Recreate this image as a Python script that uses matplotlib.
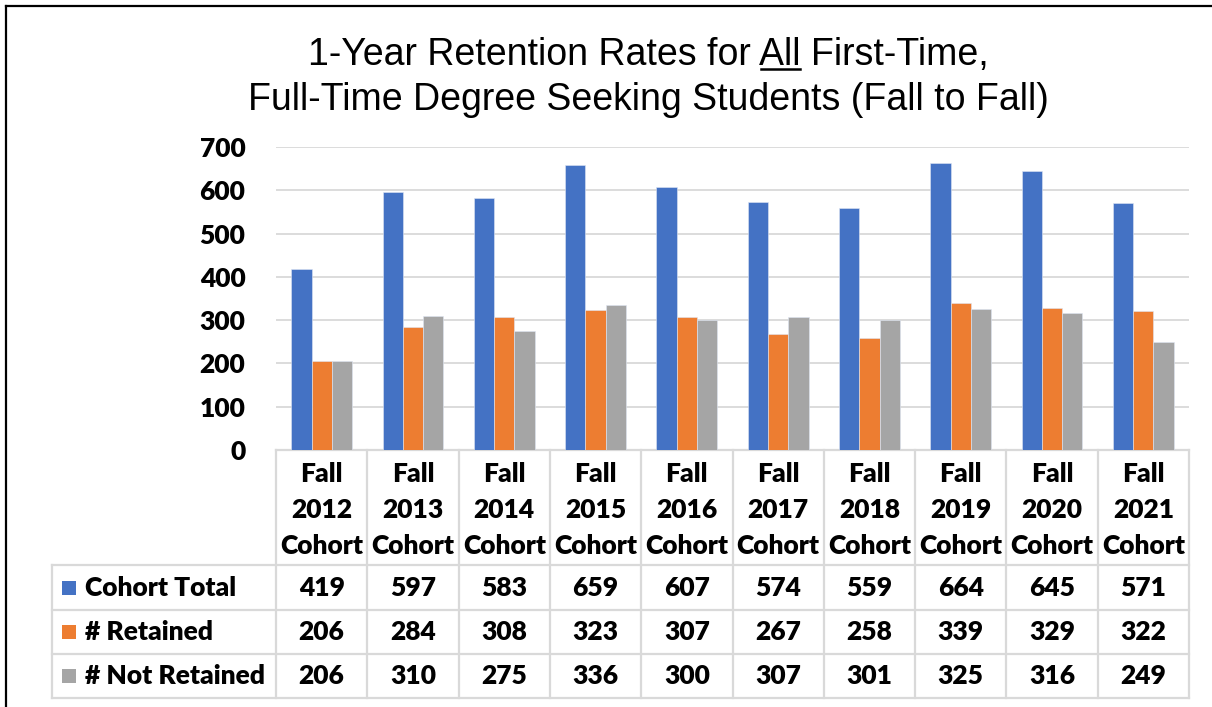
import matplotlib
matplotlib.use('Agg')
import matplotlib.pyplot as plt
import matplotlib.transforms as mtransforms
from matplotlib.lines import Line2D
from matplotlib.patches import Rectangle
import numpy as np

years = ['2012', '2013', '2014', '2015', '2016', '2017', '2018', '2019', '2020', '2021']
categories = ['Fall\n%s\nCohort' % y for y in years]
series_names = ['Cohort Total', '# Retained', '# Not Retained']
cohort_total = [419, 597, 583, 659, 607, 574, 559, 664, 645, 571]
retained = [206, 284, 308, 323, 307, 267, 258, 339, 329, 322]
not_retained = [206, 310, 275, 336, 300, 307, 301, 325, 316, 249]
colors = ['#4472C4', '#ED7D31', '#A5A5A5']
yticks = [0, 100, 200, 300, 400, 500, 600, 700]

title1_pre = '1-Year Retention Rates for '
title1_ul = 'All'
title1_post = ' First-Time,'
title2 = 'Full-Time Degree Seeking Students (Fall to Fall)'

W, H = 1212, 707
fig = plt.figure(figsize=(W / 100, H / 100), dpi=100)

bold_font = dict(family='Lato', weight='heavy', size=19)
grid_col = '#d9d9d9'

# plot area in pixels
x0, x1 = 276, 1189
y_top, y_zero = 147, 450
ax = fig.add_axes([x0 / W, 1 - y_zero / H, (x1 - x0) / W, (y_zero - y_top) / H])

series = [cohort_total, retained, not_retained]
n = len(years)
x = np.arange(n)
bw = 0.222
for k, vals in enumerate(series):
    ax.bar(x + (k - 1) * bw, vals, width=bw, color=colors[k], edgecolor='#dfe6f3',
           linewidth=0.4, zorder=3)

ax.set_xlim(-0.5, n - 0.5)
ax.set_ylim(0, 700)
ax.set_yticks(yticks)
ax.set_yticklabels([str(v) for v in yticks], fontdict=bold_font)
ax.tick_params(axis='y', length=0, pad=22)
ax.set_xticks([])
ax.grid(axis='y', color=grid_col, linewidth=1.3, zorder=0)
for s in ax.spines.values():
    s.set_visible(False)

# data table under the axes
tr = mtransforms.blended_transform_factory(ax.transData, ax.transAxes)
ph = y_zero - y_top
row_edges = [450, 565, 610, 654, 698]
row_y = [(y_zero - r) / ph for r in row_edges]
label_left = -0.5 - (x0 - 52) / ((x1 - x0) / n)

line_kw = dict(color=grid_col, linewidth=1.6, transform=tr, clip_on=False)
# vertical lines of the category columns
for i in range(n + 1):
    ax.add_line(Line2D([i - 0.5, i - 0.5], [row_y[0], row_y[-1]], **line_kw))
ax.add_line(Line2D([label_left, label_left], [row_y[1], row_y[-1]], **line_kw))
ax.add_line(Line2D([-0.5, n - 0.5], [row_y[0], row_y[0]], **line_kw))
for r in row_y[1:]:
    ax.add_line(Line2D([label_left, n - 0.5], [r, r], **line_kw))

# header cells
for i, c in enumerate(categories):
    ax.text(i, (row_y[0] + row_y[1]) / 2 - 2 / ph, c, transform=tr, ha='center', va='center',
            linespacing=1.6, clip_on=False, **bold_font)

# data rows
cw = (x1 - x0) / n
for k, vals in enumerate(series):
    yc = (row_y[k + 1] + row_y[k + 2]) / 2
    key_w = 14 / cw
    key_h = 14 / ph
    ax.add_patch(Rectangle((label_left + 10 / cw, yc - key_h / 2), key_w, key_h,
                           facecolor=colors[k], edgecolor='none', transform=tr, clip_on=False))
    ax.text(label_left + 33 / cw, yc, series_names[k], transform=tr, ha='left', va='center',
            clip_on=False, **bold_font)
    for i, v in enumerate(vals):
        ax.text(i, yc, str(v), transform=tr, ha='center', va='center', clip_on=False, **bold_font)

# title with underlined "All"
title_font = dict(family='Liberation Sans', size=27)
title_x = 648 / W
fig.canvas.draw()
renderer = fig.canvas.get_renderer()
line1 = title1_pre + title1_ul + title1_post
t1 = fig.text(title_x, 1 - 55 / H, line1, ha='center', va='center', **title_font)
fig.text(title_x, 1 - 100 / H, title2, ha='center', va='center', **title_font)
bb = t1.get_window_extent(renderer)
tmp = fig.text(0, 0, title1_pre, **title_font)
w_pre = tmp.get_window_extent(renderer).width
tmp.set_text(title1_pre + title1_ul)
w_all = tmp.get_window_extent(renderer).width
tmp.remove()
ul_y = bb.y0 + 4
fig.add_artist(Line2D([(bb.x0 + w_pre) / W, (bb.x0 + w_all) / W], [ul_y / H, ul_y / H],
                      color='black', linewidth=1.8))

# outer frame (top and left edges)
fig.add_artist(Line2D([6 / W, 1], [1 - 6 / H, 1 - 6 / H], color='black', linewidth=1.6))
fig.add_artist(Line2D([6 / W, 6 / W], [0, 1 - 6 / H], color='black', linewidth=1.6))

fig.savefig('out.png', dpi=100)
